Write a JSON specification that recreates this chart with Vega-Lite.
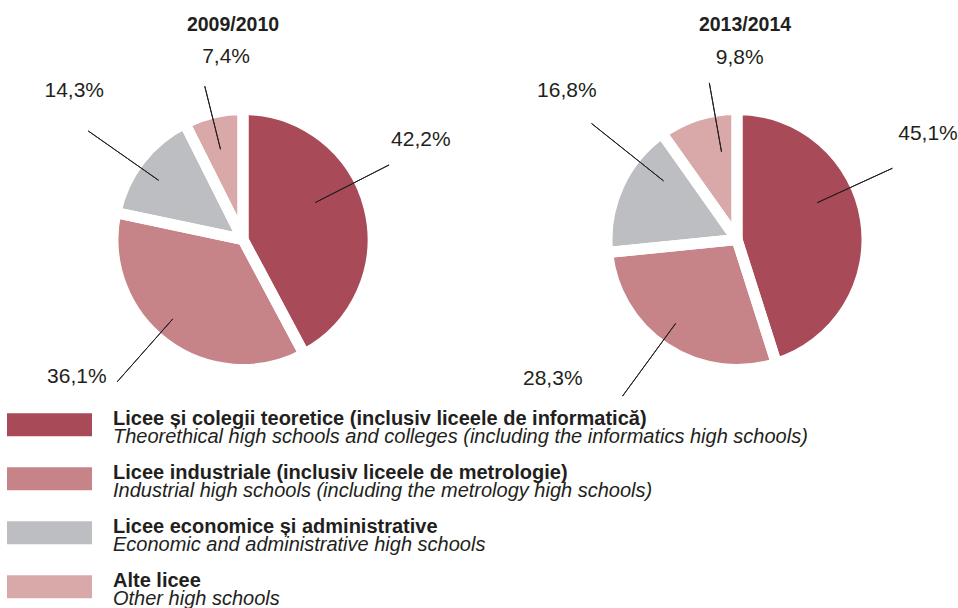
{
  "$schema": "https://vega.github.io/schema/vega-lite/v6.json",
  "background": "white",
  "padding": {"top": 14, "left": 0, "right": 0, "bottom": 0},
  "autosize": {"type": "pad"},
  "spacing": 31,
  "config": {
    "view": {"stroke": null},
    "font": "Liberation Sans",
    "title": {"font": "Liberation Sans", "fontSize": 19.5, "fontWeight": "bold", "color": "#231f20", "offset": 4, "anchor": "middle"}
  },
  "data": {
    "values": [
      {"year": "2009/2010", "k": 1, "pct": 42.2, "label": "42,2%", "ro": "Licee și colegii teoretice (inclusiv liceele de informatică)", "en": "Theorethical high schools and colleges (including the informatics high schools)"},
      {"year": "2009/2010", "k": 2, "pct": 36.1, "label": "36,1%", "ro": "Licee industriale (inclusiv liceele de metrologie)", "en": "Industrial high schools (including the metrology high schools)"},
      {"year": "2009/2010", "k": 3, "pct": 14.3, "label": "14,3%", "ro": "Licee economice și administrative", "en": "Economic and administrative high schools"},
      {"year": "2009/2010", "k": 4, "pct": 7.4, "label": "7,4%", "ro": "Alte licee", "en": "Other high schools"},
      {"year": "2013/2014", "k": 1, "pct": 45.1, "label": "45,1%", "ro": "Licee și colegii teoretice (inclusiv liceele de informatică)", "en": "Theorethical high schools and colleges (including the informatics high schools)"},
      {"year": "2013/2014", "k": 2, "pct": 28.3, "label": "28,3%", "ro": "Licee industriale (inclusiv liceele de metrologie)", "en": "Industrial high schools (including the metrology high schools)"},
      {"year": "2013/2014", "k": 3, "pct": 16.8, "label": "16,8%", "ro": "Licee economice și administrative", "en": "Economic and administrative high schools"},
      {"year": "2013/2014", "k": 4, "pct": 9.8, "label": "9,8%", "ro": "Alte licee", "en": "Other high schools"}
    ]
  },
  "hconcat": [
    {
      "width": 486,
      "height": 401,
      "title": {"text": "2009/2010", "dx": -10},
      "transform": [{"filter": "datum.year == '2009/2010'"}],
      "layer": [
        {
          "mark": {"type": "arc", "outerRadius": 130},
          "encoding": {
            "theta": {"field": "pct", "type": "quantitative", "stack": true},
            "order": {"field": "k", "type": "quantitative"},
            "color": {
              "field": "ro", "type": "nominal",
              "scale": {
                "domain": ["Licee și colegii teoretice (inclusiv liceele de informatică)", "Licee industriale (inclusiv liceele de metrologie)", "Licee economice și administrative", "Alte licee"],
                "range": ["#a84a58", "#c68489", "#bdbec1", "#d9a9aa"]
              },
              "legend": {
                "title": null, "orient": "none", "legendX": 7, "legendY": 343.3, "direction": "vertical", "padding": 0,
                "symbolType": "M-1,-0.27H1V0.27H-1Z", "symbolSize": 7225, "symbolStrokeWidth": 0, "symbolOpacity": 1,
                "labelFont": "Liberation Sans", "labelFontSize": 20, "labelFontWeight": "bold", "labelColor": "#231f20",
                "labelBaseline": "alphabetic", "labelOffset": 21, "labelLimit": 2000, "rowPadding": -0.5
              }
            }
          }
        },
        {
          "mark": {"type": "arc", "outerRadius": 130, "filled": false, "stroke": "white", "strokeWidth": 11, "strokeJoin": "round"},
          "encoding": {
            "theta": {"field": "pct", "type": "quantitative", "stack": true},
            "order": {"field": "k", "type": "quantitative"}
          }
        },
        {
          "mark": {
            "type": "arc", "filled": false, "stroke": "#231f20", "strokeWidth": 1, "padAngle": 3,
            "innerRadius": {"expr": "datum.k == 1 ? 81 : datum.k == 2 ? 106 : datum.k == 3 ? 103 : 93"},
            "outerRadius": {"expr": "datum.k == 1 ? 164 : datum.k == 2 ? 190 : datum.k == 3 ? 189 : 158"},
            "thetaOffset": {"expr": "datum.k == 1 ? -0.227 : datum.k == 2 ? 0.08 : datum.k == 3 ? -0.045 : -0.012"},
            "theta2Offset": {"expr": "datum.k == 1 ? -0.227 : datum.k == 2 ? 0.08 : datum.k == 3 ? -0.045 : -0.012"}
          },
          "encoding": {
            "theta": {"field": "pct", "type": "quantitative", "stack": true},
            "order": {"field": "k", "type": "quantitative"}
          }
        },
        {
          "mark": {
            "type": "text", "font": "Liberation Sans", "fontSize": 21, "color": "#231f20", "align": "center", "baseline": "middle",
            "radius": {"expr": "datum.k == 1 ? 204 : datum.k == 2 ? 216 : datum.k == 3 ? 225 : 183"},
            "thetaOffset": {"expr": "datum.k == 1 ? -0.267 : datum.k == 2 ? 0.234 : datum.k == 3 ? 0.066 : 0.14"}
          },
          "encoding": {
            "theta": {"field": "pct", "type": "quantitative", "stack": true},
            "order": {"field": "k", "type": "quantitative"},
            "text": {"field": "label", "type": "nominal"}
          }
        },
        {
          "mark": {"type": "point", "opacity": 0},
          "encoding": {
            "shape": {
              "field": "en", "type": "nominal",
              "scale": {
                "domain": ["Theorethical high schools and colleges (including the informatics high schools)", "Industrial high schools (including the metrology high schools)", "Economic and administrative high schools", "Other high schools"],
                "range": ["M-1,-0.01H1V0.01H-1Z", "M-1,-0.01H1V0.01H-1Z", "M-1,-0.01H1V0.01H-1Z", "M-1,-0.01H1V0.01H-1Z"]
              },
              "legend": {
                "title": null, "orient": "none", "legendX": 7, "legendY": 361.5, "direction": "vertical", "padding": 0,
                "symbolSize": 7225, "symbolStrokeWidth": 0, "symbolOpacity": 0,
                "labelFont": "Liberation Sans", "labelFontSize": 20, "labelFontStyle": "italic", "labelFontWeight": "normal", "labelColor": "#231f20",
                "labelBaseline": "alphabetic", "labelOffset": 21, "labelLimit": 2000, "rowPadding": 7
              }
            }
          }
        }
      ]
    },
    {
      "width": 440,
      "height": 401,
      "title": {"text": "2013/2014", "dx": 8},
      "transform": [{"filter": "datum.year == '2013/2014'"}],
      "layer": [
        {
          "mark": {"type": "arc", "outerRadius": 130},
          "encoding": {
            "theta": {"field": "pct", "type": "quantitative", "stack": true},
            "order": {"field": "k", "type": "quantitative"},
            "color": {
              "field": "ro", "type": "nominal",
              "scale": {
                "domain": ["Licee și colegii teoretice (inclusiv liceele de informatică)", "Licee industriale (inclusiv liceele de metrologie)", "Licee economice și administrative", "Alte licee"],
                "range": ["#a84a58", "#c68489", "#bdbec1", "#d9a9aa"]
              },
              "legend": {
                "title": null, "orient": "none", "legendX": 7, "legendY": 343.3, "direction": "vertical", "padding": 0,
                "symbolType": "M-1,-0.27H1V0.27H-1Z", "symbolSize": 7225, "symbolStrokeWidth": 0, "symbolOpacity": 1,
                "labelFont": "Liberation Sans", "labelFontSize": 20, "labelFontWeight": "bold", "labelColor": "#231f20",
                "labelBaseline": "alphabetic", "labelOffset": 21, "labelLimit": 2000, "rowPadding": -0.5
              }
            }
          }
        },
        {
          "mark": {"type": "arc", "outerRadius": 130, "filled": false, "stroke": "white", "strokeWidth": 11, "strokeJoin": "round"},
          "encoding": {
            "theta": {"field": "pct", "type": "quantitative", "stack": true},
            "order": {"field": "k", "type": "quantitative"}
          }
        },
        {
          "mark": {
            "type": "arc", "filled": false, "stroke": "#231f20", "strokeWidth": 1, "padAngle": 3,
            "innerRadius": {"expr": "datum.k == 1 ? 88 : datum.k == 2 ? 104 : datum.k == 3 ? 94 : 89"},
            "outerRadius": {"expr": "datum.k == 1 ? 171 : datum.k == 2 ? 194 : datum.k == 3 ? 186 : 159"},
            "thetaOffset": {"expr": "datum.k == 1 ? -0.276 : datum.k == 2 ? 0.05 : datum.k == 3 ? 0.246 : 0.133"},
            "theta2Offset": {"expr": "datum.k == 1 ? -0.276 : datum.k == 2 ? 0.05 : datum.k == 3 ? 0.246 : 0.133"}
          },
          "encoding": {
            "theta": {"field": "pct", "type": "quantitative", "stack": true},
            "order": {"field": "k", "type": "quantitative"}
          }
        },
        {
          "mark": {
            "type": "text", "font": "Liberation Sans", "fontSize": 21, "color": "#231f20", "align": "center", "baseline": "middle",
            "radius": {"expr": "datum.k == 1 ? 218 : datum.k == 2 ? 231 : datum.k == 3 ? 226 : 182"},
            "thetaOffset": {"expr": "datum.k == 1 ? -0.349 : datum.k == 2 ? 0.342 : datum.k == 3 ? 0.291 : 0.323"}
          },
          "encoding": {
            "theta": {"field": "pct", "type": "quantitative", "stack": true},
            "order": {"field": "k", "type": "quantitative"},
            "text": {"field": "label", "type": "nominal"}
          }
        }
      ]
    }
  ]
}
